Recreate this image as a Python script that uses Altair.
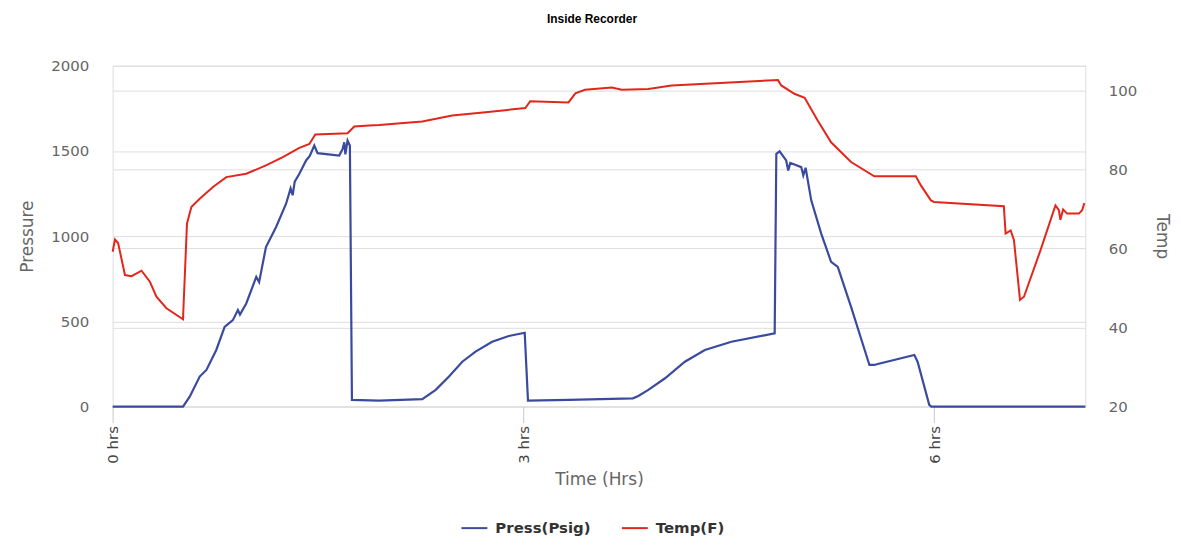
import altair as alt
import pandas as pd

# ---- data ----
press_t = [0, 0.514, 0.563, 0.636, 0.685, 0.757, 0.818, 0.878, 0.915, 0.93, 0.976, 1.049, 1.07,
           1.12, 1.194, 1.267, 1.30, 1.315, 1.33, 1.364, 1.413, 1.44, 1.473, 1.497, 1.655, 1.68,
           1.692, 1.70, 1.716, 1.733, 1.748, 1.947, 2.262, 2.36, 2.457, 2.554, 2.651, 2.772,
           2.894, 3.01, 3.034, 3.33, 3.80, 3.84, 3.913, 4.035, 4.18, 4.326, 4.52, 4.836, 4.848,
           4.872, 4.92, 4.935, 4.95, 5.03, 5.045, 5.062, 5.103, 5.176, 5.248, 5.297, 5.394,
           5.528, 5.564, 5.589, 5.856, 5.88, 5.965, 5.98, 7.105]
press_v = [0, 0, 58, 176, 215, 332, 468, 507, 566, 540, 605, 761, 730,
           936, 1054, 1190, 1280, 1240, 1320, 1366, 1444, 1470, 1532, 1487, 1473, 1512,
           1551, 1480, 1561, 1532, 39, 35, 43, 98, 176, 263, 322, 380,
           414, 433, 35, 39, 48, 62, 98, 166, 263, 332, 380, 430, 1483,
           1498, 1444, 1385, 1430, 1405, 1356, 1401, 1210, 1015, 849, 819, 585,
           244, 244, 250, 303, 263, 10, 0, 0]

temp_t = [0, 0.017, 0.04, 0.09, 0.138, 0.211, 0.272, 0.32, 0.393, 0.514, 0.543, 0.575, 0.636,
          0.733, 0.83, 0.976, 1.12, 1.243, 1.364, 1.437, 1.48, 1.716, 1.765, 1.874, 1.947,
          2.262, 2.48, 2.724, 3.015, 3.05, 3.33, 3.38, 3.45, 3.646, 3.72, 3.913, 4.083, 4.86,
          4.884, 4.98, 5.055, 5.15, 5.248, 5.394, 5.564, 5.867, 5.904, 5.977, 6.0, 6.51, 6.523,
          6.56, 6.584, 6.628, 6.657, 6.778, 6.887, 6.912, 6.923, 6.943, 6.972, 7.058, 7.082, 7.098]
temp_v = [59.2, 62.3, 61.4, 53.3, 53.0, 54.4, 51.6, 47.8, 44.9, 42.1, 66.3, 70.5, 72.6,
          75.6, 78.1, 78.95, 81.05, 83.15, 85.5, 86.5, 88.9, 89.2, 90.9, 91.15, 91.3,
          92.2, 93.7, 94.5, 95.6, 97.3, 97.0, 99.3, 100.2, 100.8, 100.2, 100.4, 101.3, 102.7,
          101.3, 99.2, 98.2, 92.4, 86.9, 81.9, 78.3, 78.3, 76.0, 72.2, 71.8, 70.7, 63.8,
          64.6, 62.1, 47.0, 47.8, 59.6, 70.9, 69.7, 67.3, 69.9, 68.85, 68.85, 69.7, 71.5]

series_names = ["Press(Psig)", "Temp(F)"]
series_colors = ["#3a4a9e", "#e3261c"]
press_ticks = [0, 500, 1000, 1500, 2000]
temp_ticks = [20, 40, 60, 80, 100]
time_ticks = [0, 3, 6]

press_df = pd.DataFrame({"t": press_t, "v": press_v, "series": series_names[0]})
temp_df = pd.DataFrame({"t": temp_t, "v": temp_v, "series": series_names[1]})

x_enc = alt.X("t:Q", scale=alt.Scale(domain=[0, 7.105], nice=False, zero=False),
              axis=alt.Axis(values=time_ticks, labelExpr="datum.value + ' hrs'",
                            labelAngle=270, labelFont="DejaVu Sans", labelFontSize=15,
                            labelColor="#444", labelPadding=3, ticks=True, tickSize=16,
                            tickColor="#c8c8c8", domain=False, grid=False,
                            title="Time (Hrs)", titleFont="DejaVu Sans", titleFontSize=17,
                            titleFontWeight="normal", titleColor="#666", titlePadding=8))

color_enc = alt.Color("series:N",
                      scale=alt.Scale(domain=series_names, range=series_colors),
                      legend=alt.Legend(title=None, orient="none", legendX=349, legendY=450,
                                        direction="horizontal", symbolType="stroke",
                                        symbolSize=676, symbolStrokeWidth=2,
                                        labelFont="DejaVu Sans", labelFontWeight="bold",
                                        labelFontSize=15, labelColor="#333",
                                        columnPadding=27, labelOffset=7, padding=0))

press = alt.Chart(press_df).mark_line(strokeWidth=2.2, interpolate="linear").encode(
    x=x_enc,
    y=alt.Y("v:Q", scale=alt.Scale(domain=[0, 2000], nice=False),
            axis=alt.Axis(orient="left", values=press_ticks, format="d",
                          labelFont="DejaVu Sans",
                          labelFontSize=15, labelColor="#666", labelPadding=24, ticks=False,
                          tickSize=0, domain=False, grid=True, gridColor="#dedede",
                          title="Pressure", titleFont="DejaVu Sans", titleFontSize=17,
                          titleFontWeight="normal", titleColor="#666", titlePadding=14)),
    color=color_enc,
)

temp = alt.Chart(temp_df).mark_line(strokeWidth=2, interpolate="linear").encode(
    x=x_enc,
    y=alt.Y("v:Q", scale=alt.Scale(domain=[20, 106.3], nice=False, zero=False),
            axis=alt.Axis(orient="right", values=temp_ticks, format="d",
                          labelFont="DejaVu Sans",
                          labelFontSize=15, labelColor="#666", labelPadding=23, ticks=False,
                          tickSize=0, domain=False, grid=True, gridColor="#dedede",
                          title="Temp", titleFont="DejaVu Sans", titleFontSize=17,
                          titleFontWeight="normal", titleColor="#666", titlePadding=16)),
    color=color_enc,
)

chart = alt.layer(press, temp).resolve_scale(y="independent", color="shared").properties(
    width=976, height=342,
    title=alt.TitleParams("Inside Recorder", font="Liberation Sans", fontSize=12,
                          fontWeight="bold", color="#000", anchor="middle", baseline="bottom",
                          offset=21, dx=-7),
    autosize=alt.AutoSizeParams(type="none"),
    padding={"left": 105, "top": 57, "right": 88, "bottom": 133},
).configure_view(stroke=None).configure(background="white")

chart.save("out.html", embed_options={"renderer": "svg", "actions": False})
